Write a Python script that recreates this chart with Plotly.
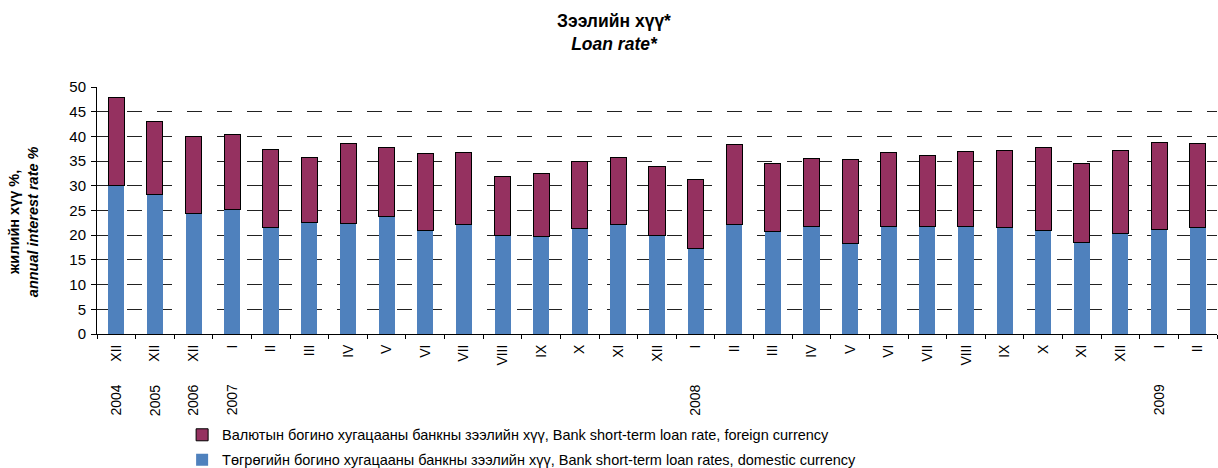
import plotly.graph_objects as go

# ---- data ----
months = ["XII", "XII", "XII", "I", "II", "III", "IV", "V", "VI", "VII", "VIII", "IX", "X", "XI", "XII",
          "I", "II", "III", "IV", "V", "VI", "VII", "VIII", "IX", "X", "XI", "XII", "I", "II"]
years = ["2004", "2005", "2006", "2007", "", "", "", "", "", "", "", "", "", "", "",
         "2008", "", "", "", "", "", "", "", "", "", "", "", "2009", ""]
domestic = [30.0, 28.2, 24.4, 25.3, 21.6, 22.5, 22.3, 23.7, 21.0, 22.2, 20.0, 19.7, 21.3, 22.2, 19.9,
            17.3, 22.1, 20.7, 21.7, 18.4, 21.7, 21.8, 21.8, 21.6, 21.0, 18.5, 20.4, 21.1, 21.6]
foreign = [17.9, 14.9, 15.5, 15.1, 15.7, 13.2, 16.2, 14.0, 15.5, 14.5, 11.9, 12.8, 13.7, 13.5, 14.1,
           13.9, 16.2, 13.8, 13.8, 17.0, 15.0, 14.3, 15.1, 15.5, 16.7, 16.0, 16.7, 17.7, 16.9]

name_foreign = "Валютын богино хугацааны банкны зээлийн хүү, Bank short-term loan rate, foreign currency"
name_domestic = "Төгрөгийн богино хугацааны банкны зээлийн хүү, Bank short-term loan rates, domestic currency"
title_mn = "Зээлийн хүү*"
title_en = "Loan rate*"
ytitle_mn = "жилийн хүү %,"
ytitle_en = "annual interest rate %"

cats = ["c%02d" % i for i in range(len(months))]

FONT = "Arial, 'Liberation Sans', sans-serif"
BLUE = "#4F81BD"
MAROON = "#953160"

fig = go.Figure()
fig.add_trace(go.Bar(
    x=cats, y=domestic, name=name_domestic,
    marker=dict(color=BLUE, line=dict(width=0)),
    legendrank=2, legendgroup="d",
))
fig.add_trace(go.Bar(
    x=cats, y=foreign, name=name_foreign,
    marker=dict(color=MAROON, line=dict(color="#000000", width=1)),
    legendrank=1, legendgroup="f",
))

annotations = []
for c, yv in zip(cats, years):
    if yv:
        annotations.append(dict(
            x=c, xref="x", y=-0.268, yref="paper", text=yv, showarrow=False,
            textangle=-90, xanchor="center", yanchor="middle",
            font=dict(family=FONT, size=14, color="#000"),
        ))

# y-axis title (two lines)
annotations.append(dict(
    x=-0.066, xref="paper", y=0.453, yref="paper",
    text="<b>%s</b><br><b><i>%s</i></b>" % (ytitle_mn, ytitle_en),
    showarrow=False, textangle=-90, xanchor="center", yanchor="middle",
    font=dict(family=FONT, size=14.5, color="#000"),
))

# chart title (two lines)
annotations.append(dict(
    x=0.4616, xref="paper", y=1.221, yref="paper",
    text="<b>%s</b><br><b><i>%s</i></b>" % (title_mn, title_en),
    showarrow=False, xanchor="center", yanchor="middle", align="center",
    font=dict(family=FONT, size=17.5, color="#000"),
))

fig.update_layout(
    width=1218, height=468,
    margin=dict(l=97, r=1, t=87, b=134, autoexpand=False),
    paper_bgcolor="white", plot_bgcolor="white",
    barmode="stack", bargap=0.585,
    font=dict(family=FONT, size=14, color="#000"),
    showlegend=True,
    legend=dict(
        orientation="v", x=0.076, xanchor="left",
        y=0.105, yref="container", yanchor="top",
        font=dict(family=FONT, size=14.5, color="#000"),
        tracegroupgap=3, traceorder="grouped",
        bgcolor="rgba(0,0,0,0)",
    ),
    annotations=annotations,
)

fig.update_xaxes(
    type="category", categoryorder="array", categoryarray=cats,
    tickvals=cats, ticktext=months, tickangle=-90,
    tickson="boundaries", ticks="outside", ticklen=4, tickcolor="#000",
    showline=True, linecolor="#000", linewidth=1,
    showgrid=False, tickfont=dict(family=FONT, size=14, color="#000"),
    ticklabelstandoff=4,
)
fig.update_yaxes(
    range=[0, 50], dtick=5, tick0=0,
    showline=True, linecolor="#000", linewidth=1,
    ticks="outside", ticklen=5, tickcolor="#000",
    showgrid=True, gridcolor="#222", gridwidth=1, griddash="15px,15px",
    zeroline=False, tickfont=dict(family=FONT, size=15, color="#000"),
    ticklabelstandoff=2,
)

fig.write_html(
    "out.html",
    config={"displayModeBar": False},
    post_script="document.body.style.margin='0';document.body.style.overflow='hidden';"
                "document.documentElement.style.overflow='hidden';",
)
